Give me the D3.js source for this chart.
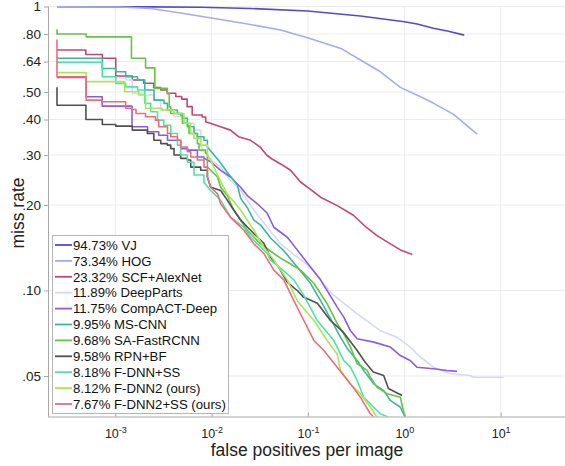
<!DOCTYPE html>
<html><head><meta charset="utf-8">
<script src="https://cdn.jsdelivr.net/npm/d3@7"></script>
<style>body{margin:0;background:#fff;} svg{display:block;} text{font-family:"Liberation Sans",Arial,Helvetica,sans-serif;}</style>
</head><body><svg id="c" width="565" height="466"></svg>
<script>
// ---- tick definitions ----
const xTicks = [1e-3, 1e-2, 1e-1, 1, 10];
const xTickExp = ["-3", "-2", "-1", "0", "1"];
const yTicks = [1, 0.8, 0.64, 0.5, 0.4, 0.3, 0.2, 0.1, 0.05];
const yTickLabels = ["1", ".80", ".64", ".50", ".40", ".30", ".20", ".10", ".05"];

// ---- legend ----
const names = ["94.73% VJ", "73.34% HOG", "23.32% SCF+AlexNet", "11.89% DeepParts", "11.75% CompACT-Deep",
  "9.95% MS-CNN", "9.68% SA-FastRCNN", "9.58% RPN+BF", "8.18% F-DNN+SS", "8.12% F-DNN2 (ours)", "7.67% F-DNN2+SS (ours)"];
const colors = ["#5249d6", "#a3abf6", "#c84570", "#d5d9f7", "#8a5ce0", "#3db79c", "#66c346", "#505050", "#4fe2a6", "#a6e85a", "#f06a78"];

// ---- series: [fppi, miss rate] ----
const vj = [[2.48e-4,0.998],[2.33e-3,0.997],[7.69e-3,0.9935],[2.54e-2,0.984],[0.099,0.964],[0.35,0.926],[1.0,0.884],[1.36,0.868],[2.0,0.838],[2.79,0.820],[4.19,0.793]];
const hog = [[2.48e-4,0.998],[1.14e-3,0.996],[2.33e-3,0.984],[4.77e-3,0.949],[1.03e-2,0.909],[2.36e-2,0.868],[5.19e-2,0.826],[0.099,0.776],[0.22,0.712],[0.35,0.648],[0.564,0.589],[0.91,0.519],[1.47,0.481],[2.0,0.457],[3.22,0.418],[5.70,0.355]];
const scf = [[2.48e-4,0.703],[4.94e-4,0.678],[7.33e-4,0.657],[1.01e-3,0.569],[1.5e-3,0.551],[1.97e-3,0.537],[2.5e-3,0.518],[2.96e-3,0.508],[3.46e-3,0.495],[4.24e-3,0.482],[4.89e-3,0.472],[5.57e-3,0.444],[6.28e-3,0.415],[7.97e-3,0.408],[8.67e-3,0.393],[1.24e-2,0.377],[1.57e-2,0.367],[1.9e-2,0.348],[2.54e-2,0.338],[3.22e-2,0.319],[3.72e-2,0.300],[4.19e-2,0.291],[5.19e-2,0.279],[6.59e-2,0.265],[8.36e-2,0.241],[0.106,0.227],[0.135,0.213],[0.201,0.199],[0.296,0.184],[0.41,0.166],[0.521,0.156],[0.716,0.146],[0.91,0.139],[1.21,0.134]];
const deepParts = [[2.48e-4,0.635],[7.33e-4,0.566],[1.01e-3,0.560],[1.28e-3,0.551],[1.50e-3,0.494],[2.02e-3,0.488],[2.51e-3,0.468],[2.96e-3,0.432],[4.07e-3,0.409],[5.16e-3,0.388],[6.55e-3,0.367],[7.69e-3,0.322],[9.76e-3,0.288],[1.24e-2,0.272],[1.57e-2,0.244],[2.00e-2,0.225],[2.74e-2,0.192],[3.78e-2,0.167],[5.19e-2,0.146],[7.73e-2,0.131],[0.106,0.121],[0.135,0.109],[0.171,0.0985],[0.217,0.0921],[0.324,0.0828],[0.564,0.0722],[0.840,0.0685],[1.15,0.0632],[1.47,0.0582],[2.01,0.0537],[3.00,0.0509],[4.83,0.0502],[5.23,0.0495],[10.7,0.0495]];
const compact = [[2.48e-4,0.563],[4.98e-4,0.481],[7.30e-4,0.446],[1.49e-3,0.377],[2.16e-3,0.362],[2.82e-3,0.352],[3.48e-3,0.338],[4.77e-3,0.316],[5.60e-3,0.312],[7.11e-3,0.295],[8.32e-3,0.292],[9.76e-3,0.284],[1.24e-2,0.265],[1.57e-2,0.251],[2.00e-2,0.231],[2.34e-2,0.216],[2.98e-2,0.202],[3.78e-2,0.187],[4.42e-2,0.167],[6.09e-2,0.154],[7.73e-2,0.139],[0.106,0.121],[0.135,0.109],[0.201,0.0874],[0.235,0.0806],[0.276,0.0722],[0.324,0.0676],[0.481,0.0658],[0.716,0.0632],[0.909,0.0590],[1.15,0.0567],[1.35,0.0537],[2.01,0.0530],[2.77,0.0523],[3.52,0.0519]];
const msCnn = [[2.48e-4,0.657],[7.33e-4,0.605],[1.01e-3,0.589],[1.28e-3,0.566],[1.70e-3,0.551],[2.02e-3,0.508],[2.52e-3,0.468],[3.20e-3,0.456],[3.48e-3,0.432],[4.41e-3,0.420],[4.97e-3,0.404],[5.60e-3,0.377],[6.55e-3,0.357],[7.11e-3,0.348],[8.32e-3,0.338],[9.03e-3,0.320],[1.06e-2,0.300],[1.24e-2,0.281],[1.45e-2,0.261],[1.85e-2,0.235],[2.00e-2,0.211],[2.34e-2,0.196],[2.74e-2,0.177],[3.22e-2,0.170],[4.09e-2,0.153],[5.61e-2,0.138],[7.73e-2,0.121],[0.106,0.106],[0.135,0.0921],[0.171,0.0797],[0.217,0.0685],[0.255,0.0625],[0.324,0.0567],[0.379,0.0523],[0.481,0.0469],[0.611,0.0444],[0.716,0.0410],[0.909,0.0388],[1.02,0.0358]];
const saFast = [[2.48e-4,0.831],[2.48e-4,0.800],[4.98e-4,0.782],[1.47e-3,0.657],[2.06e-3,0.608],[2.57e-3,0.515],[3.46e-3,0.493],[3.63e-3,0.443],[3.76e-3,0.420],[4.77e-3,0.414],[4.97e-3,0.388],[5.60e-3,0.382],[5.82e-3,0.357],[7.11e-3,0.329],[7.39e-3,0.312],[8.67e-3,0.304],[9.03e-3,0.272],[1.15e-2,0.251],[1.24e-2,0.231],[1.45e-2,0.216],[1.70e-2,0.192],[2.00e-2,0.177],[2.34e-2,0.163],[3.22e-2,0.146],[4.42e-2,0.135],[5.19e-2,0.130],[6.59e-2,0.124],[8.36e-2,0.118],[0.115,0.106],[0.158,0.0899],[0.201,0.0764],[0.235,0.0704],[0.276,0.0632],[0.324,0.0552],[0.411,0.0523],[0.444,0.0495],[0.522,0.0456],[0.662,0.0433],[0.909,0.0421],[0.976,0.0378],[1.02,0.0358]];
const rpnBf = [[2.48e-4,0.520],[2.48e-4,0.449],[4.95e-4,0.400],[7.33e-4,0.384],[1.01e-3,0.379],[1.50e-3,0.367],[2.15e-3,0.357],[2.51e-3,0.338],[2.96e-3,0.329],[3.46e-3,0.325],[3.76e-3,0.316],[4.07e-3,0.300],[4.77e-3,0.292],[5.60e-3,0.288],[6.06e-3,0.272],[7.69e-3,0.265],[9.03e-3,0.251],[9.76e-3,0.231],[1.24e-2,0.225],[1.45e-2,0.208],[1.69e-2,0.192],[2.00e-2,0.177],[2.72e-2,0.159],[3.46e-2,0.147],[4.09e-2,0.131],[4.95e-2,0.121],[6.09e-2,0.107],[7.73e-2,0.100],[8.98e-2,0.0948],[0.125,0.0901],[0.171,0.0784],[0.233,0.0713],[0.324,0.0615],[0.394,0.0558],[0.477,0.0516],[0.611,0.0502],[0.683,0.0452],[0.946,0.0427]];
const fdnnSS = [[2.48e-4,0.636],[7.33e-4,0.566],[1.01e-3,0.536],[1.28e-3,0.521],[1.70e-3,0.508],[2.02e-3,0.456],[2.33e-3,0.426],[2.74e-3,0.398],[3.18e-3,0.382],[3.76e-3,0.357],[4.41e-3,0.325],[4.77e-3,0.300],[5.60e-3,0.283],[6.55e-3,0.255],[8.32e-3,0.240],[9.76e-3,0.225],[1.24e-2,0.208],[1.57e-2,0.181],[2.16e-2,0.167],[2.54e-2,0.154],[2.98e-2,0.146],[3.78e-2,0.135],[4.09e-2,0.128],[5.19e-2,0.120],[7.13e-2,0.109],[9.05e-2,0.0961],[0.125,0.0784],[0.185,0.0667],[0.235,0.0567],[0.276,0.0537],[0.324,0.0482],[0.379,0.0421],[0.481,0.0388],[0.564,0.0368],[0.688,0.0358]];
const fdnn2 = [[2.48e-4,0.585],[4.98e-4,0.544],[1.25e-3,0.501],[1.75e-3,0.488],[2.06e-3,0.438],[3.05e-3,0.432],[4.07e-3,0.420],[5.16e-3,0.388],[6.06e-3,0.357],[6.55e-3,0.343],[7.69e-3,0.325],[9.03e-3,0.300],[9.76e-3,0.288],[1.15e-2,0.255],[1.45e-2,0.219],[2.00e-2,0.192],[2.74e-2,0.163],[3.48e-2,0.142],[4.42e-2,0.128],[6.09e-2,0.109],[7.73e-2,0.0921],[0.115,0.0784],[0.158,0.0667],[0.201,0.0598],[0.217,0.0523],[0.276,0.0469],[0.350,0.0433],[0.444,0.0388],[0.522,0.0358]];
const fdnn2SS = [[2.48e-4,0.766],[2.48e-4,0.566],[4.98e-4,0.468],[7.30e-4,0.462],[1.28e-3,0.438],[1.49e-3,0.434],[1.64e-3,0.420],[2.06e-3,0.409],[2.61e-3,0.398],[2.82e-3,0.377],[3.48e-3,0.357],[3.76e-3,0.348],[4.41e-3,0.338],[4.77e-3,0.320],[5.60e-3,0.308],[6.06e-3,0.295],[7.11e-3,0.288],[8.32e-3,0.272],[9.03e-3,0.251],[9.76e-3,0.231],[1.15e-2,0.219],[1.24e-2,0.202],[1.57e-2,0.181],[2.16e-2,0.163],[2.74e-2,0.146],[3.48e-2,0.135],[4.42e-2,0.118],[5.61e-2,0.109],[7.13e-2,0.0921],[9.05e-2,0.0784],[0.115,0.0667],[0.146,0.0615],[0.201,0.0537],[0.276,0.0469],[0.350,0.0421],[0.444,0.0368],[0.481,0.0358]];

const seriesList = [vj, hog, scf, deepParts, compact, msCnn, saFast, rpnBf, fdnnSS, fdnn2, fdnn2SS];
// below this fppi the curves are drawn as visible stairs, above as jagged polylines
const stepLimit = 9.5e-3;

// ---- layout ----
const L = 48, R = 568, T = 6.5, B = 416.5;
const svg = d3.select("#c");
const x = d3.scaleLog().domain([2e-4, 50]).range([L, R]);
const y = d3.scaleLog().domain([0.036, 1]).range([B, T]);

// grid
const grid = svg.append("g");
grid.selectAll(".gx").data(xTicks).join("line")
  .attr("x1", d => x(d)).attr("x2", d => x(d)).attr("y1", T).attr("y2", B)
  .attr("stroke", "#ececec").attr("stroke-width", 1);
grid.selectAll(".gy").data(yTicks).join("line")
  .attr("x1", L).attr("x2", R).attr("y1", d => y(d)).attr("y2", d => y(d))
  .attr("stroke", "#ececec").attr("stroke-width", 1);

// curves
function withStairs(s) {
  const out = [];
  for (let i = 0; i < s.length; i++) {
    out.push(s[i]);
    if (i + 1 < s.length && s[i + 1][0] <= stepLimit) out.push([s[i + 1][0], s[i][1]]);
  }
  return out;
}
svg.append("clipPath").attr("id", "clip").append("rect")
  .attr("x", L).attr("y", T - 2).attr("width", R - L).attr("height", B - T + 2);
const gCurves = svg.append("g").attr("clip-path", "url(#clip)");
const line = d3.line().x(d => x(d[0])).y(d => y(d[1])).curve(d3.curveLinear);
seriesList.forEach((s, i) => {
  const pts = i < 2 ? s : withStairs(s);
  gCurves.append("path").datum(pts).attr("d", line)
    .attr("fill", "none").attr("stroke", colors[i]).attr("stroke-width", 1.6)
    .attr("stroke-linejoin", "round");
});

// axes
const yAxis = d3.axisLeft(y).tickValues(yTicks).tickFormat((d, i) => yTickLabels[i]).tickSize(4).tickPadding(3);
const gy = svg.append("g").attr("transform", `translate(${L},0)`).call(yAxis);
gy.select(".domain").attr("stroke", "#a8a8a8").attr("d", `M0.5,${T}V${B}`);
gy.selectAll(".tick line").attr("stroke", "#a8a8a8");
gy.selectAll(".tick text").attr("font-size", 13.5).attr("fill", "#222").attr("font-family", "Liberation Sans, Arial, sans-serif");

const xAxis = d3.axisBottom(x).tickValues(xTicks).tickFormat("").tickSize(-4);
const gx = svg.append("g").attr("transform", `translate(0,${B})`).call(xAxis);
gx.select(".domain").attr("stroke", "#a8a8a8").attr("d", `M${L},0.5H${R}`);
gx.selectAll(".tick line").attr("stroke", "#a8a8a8");
gx.selectAll(".tick").each(function (d, i) {
  const t = d3.select(this).append("text").attr("y", 21).attr("fill", "#222")
    .attr("text-anchor", "middle").attr("font-size", 12.5);
  t.append("tspan").text("10");
  t.append("tspan").attr("dy", -5).attr("font-size", 9).text(xTickExp[i]);
});

// axis titles
svg.append("text").attr("x", 307).attr("y", 456).attr("text-anchor", "middle")
  .attr("font-size", 17.5).attr("fill", "#222").text("false positives per image");
svg.append("text").attr("transform", "translate(23.5,213) rotate(-90)").attr("text-anchor", "middle")
  .attr("font-size", 17.5).attr("fill", "#222").text("miss rate");

// legend
const lg = svg.append("g");
lg.append("rect").attr("x", 52.5).attr("y", 235.5).attr("width", 176).attr("height", 178)
  .attr("fill", "#fff").attr("stroke", "#b5b5b5");
names.forEach((n, i) => {
  const yy = 245 + i * 15.9;
  lg.append("line").attr("x1", 55).attr("x2", 72).attr("y1", yy).attr("y2", yy)
    .attr("stroke", colors[i]).attr("stroke-width", 1.8);
  lg.append("text").attr("x", 73).attr("y", yy).attr("dy", "0.36em")
    .attr("font-size", 13.2).attr("fill", "#111").text(n);
});
</script></body></html>
